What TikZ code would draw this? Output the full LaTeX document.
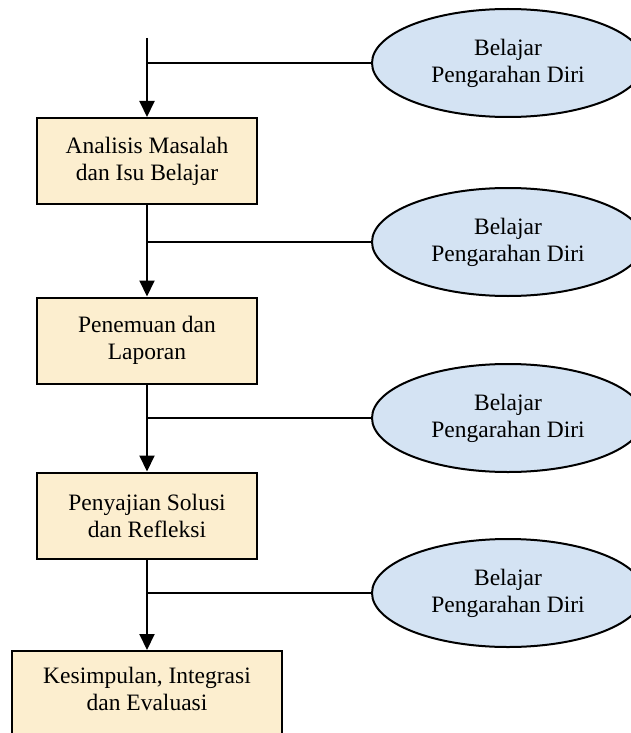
\documentclass[tikz,border=0pt]{standalone}
\usepackage{fontspec}
\setmainfont{Liberation Serif}
\usetikzlibrary{shapes.geometric,arrows.meta}
\definecolor{boxfill}{HTML}{FCEECF}
\definecolor{ellfill}{HTML}{D4E3F3}
\tikzset{
  stepbox/.style={draw=black, line width=2pt, fill=boxfill, minimum width=220pt, minimum height=86pt, inner sep=0pt, align=center, font=\fontsize{23.5}{27}\selectfont},
  sdl/.style={draw=black, line width=2pt, fill=ellfill, ellipse, minimum width=272pt, minimum height=108pt, inner sep=0pt, align=center, font=\fontsize{23.5}{27}\selectfont},
  flow/.style={line width=2pt, -{Triangle[width=15pt,length=16pt]}},
  tieline/.style={line width=2pt}
}
\begin{document}
\begin{tikzpicture}[x=1pt,y=-1pt]
\useasboundingbox (0,0) rectangle (631,733);
\clip (0,0) rectangle (631,733);
\coordinate (top) at (147,38);
\node[stepbox] (b1) at (147,161) {Analisis Masalah\\dan Isu Belajar};
\node[stepbox] (b2) at (147,340.5) {Penemuan dan\\Laporan};
\node[stepbox] (b3) at (147,515.5) {Penyajian Solusi\\dan Refleksi};
\node[stepbox, minimum width=270pt, minimum height=0pt, inner xsep=0pt, inner ysep=16pt, text depth=80pt, anchor=north] (b4) at (147,650) {Kesimpulan, Integrasi\\dan Evaluasi};
\node[sdl] (e1) at (508,63) {Belajar\\Pengarahan Diri};
\node[sdl] (e2) at (508,242) {Belajar\\Pengarahan Diri};
\node[sdl] (e3) at (508,418) {Belajar\\Pengarahan Diri};
\node[sdl] (e4) at (508,593) {Belajar\\Pengarahan Diri};
\draw[flow] (top) -- (b1.north);
\draw[flow] (b1.south) -- (b2.north);
\draw[flow] (b2.south) -- (b3.north);
\draw[flow] (b3.south) -- (b4.north);
\draw[tieline] (top |- e1.west) -- (e1.west);
\draw[tieline] (b1.south |- e2.west) -- (e2.west);
\draw[tieline] (b2.south |- e3.west) -- (e3.west);
\draw[tieline] (b3.south |- e4.west) -- (e4.west);
\end{tikzpicture}
\end{document}
